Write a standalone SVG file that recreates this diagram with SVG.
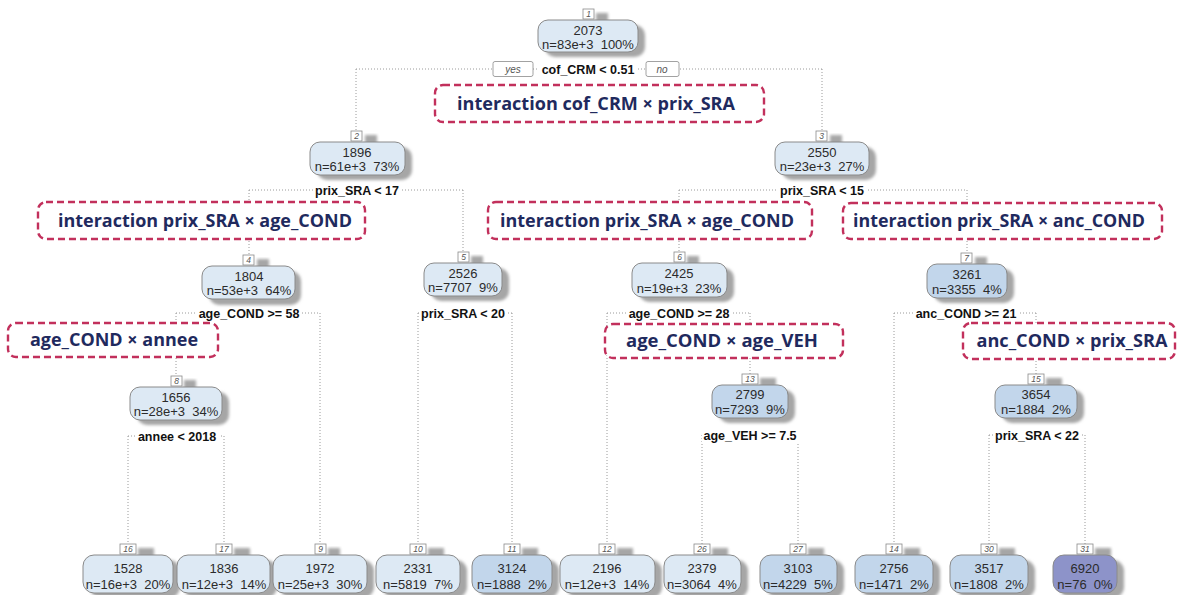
<svg xmlns="http://www.w3.org/2000/svg" width="1179" height="595" viewBox="0 0 1179 595">
  <defs>
    <filter id="soft" x="-20%" y="-20%" width="140%" height="140%">
      <feGaussianBlur stdDeviation="1.8"/>
    </filter>
    <style>
      .link { fill: none; stroke: #9a9a9a; stroke-width: 1; stroke-dasharray: 1 2; }
      .shadow { fill: #a6a6a6; filter: url(#soft); }
      .box { stroke: #8a8a8a; stroke-width: 1; }
      .lo { fill: #dde9f4; }
      .mid { fill: #c2d6eb; }
      .hi { fill: #8d93c9; }
      .tag { fill: #ffffff; stroke: #8a8a8a; stroke-width: 0.8; }
      .tagtxt { font-family: "Liberation Sans", Arial, sans-serif; font-size: 8.5px; font-style: italic; fill: #555; text-anchor: middle; }
      .val { font-family: "Liberation Sans", Arial, sans-serif; font-size: 13px; fill: #2b2b2b; text-anchor: middle; }
      .split { font-family: "Liberation Sans", Arial, sans-serif; font-size: 12.5px; font-weight: bold; fill: #111; text-anchor: middle; }
      .yn { font-family: "Liberation Sans", Arial, sans-serif; font-size: 10px; font-style: italic; fill: #555; text-anchor: middle; }
      .mask { fill: #ffffff; }
      .note { fill: #ffffff; stroke: #c2305c; stroke-width: 2.4; stroke-dasharray: 7 4; }
      .notetxt { font-family: "Open Sans", "Liberation Sans", sans-serif; font-size: 18px; font-weight: bold; fill: #1f2a5e; text-anchor: middle; }
    </style>
  </defs>

  <rect width="1179" height="595" fill="#ffffff"/>

  <!-- connectors: split lines and branches -->
  <g id="connectors">
    <path class="link" d="M356,69 H822 M356,69 V131 M822,69 V131"/>
    <path class="link" d="M249,190 H463 M249,190 V255 M463,190 V252"/>
    <path class="link" d="M679,190 H967 M679,190 V252 M967,190 V253"/>
    <path class="link" d="M176,313 H320 M176,313 V376 M320,313 V544"/>
    <path class="link" d="M418,313 H512 M418,313 V544 M512,313 V544"/>
    <path class="link" d="M607,313 H750 M607,313 V544 M750,313 V374"/>
    <path class="link" d="M894,313 H1036 M894,313 V544 M1036,313 V374"/>
    <path class="link" d="M128,436 H224 M128,436 V544 M224,436 V544"/>
    <path class="link" d="M702,435 H798 M702,435 V544 M798,435 V544"/>
    <path class="link" d="M989,435 H1085 M989,435 V544 M1085,435 V544"/>
  </g>

  <!-- split conditions -->
  <g id="splits">
    <rect class="mask" x="539" y="62" width="99" height="14"/>
    <text class="split" x="588" y="73.5">cof_CRM &lt; 0.51</text>
    <rect class="tag" x="493" y="61.5" width="40" height="15" rx="2"/>
    <text class="yn" x="513" y="73">yes</text>
    <rect class="tag" x="646" y="61.5" width="33" height="15" rx="2"/>
    <text class="yn" x="662" y="73">no</text>

    <rect class="mask" x="313" y="183" width="88" height="14"/>
    <text class="split" x="357" y="194.5">prix_SRA &lt; 17</text>
    <rect class="mask" x="778" y="183" width="88" height="14"/>
    <text class="split" x="822" y="194.5">prix_SRA &lt; 15</text>

    <rect class="mask" x="196" y="306" width="106" height="14"/>
    <text class="split" x="249" y="317.5">age_COND &gt;= 58</text>
    <rect class="mask" x="419" y="306" width="88" height="14"/>
    <text class="split" x="463" y="317.5">prix_SRA &lt; 20</text>
    <rect class="mask" x="626" y="306" width="106" height="14"/>
    <text class="split" x="679" y="317.5">age_COND &gt;= 28</text>
    <rect class="mask" x="914" y="306" width="104" height="14"/>
    <text class="split" x="966" y="317.5">anc_COND &gt;= 21</text>

    <rect class="mask" x="135" y="429" width="84" height="14"/>
    <text class="split" x="177" y="440.5">annee &lt; 2018</text>
    <rect class="mask" x="702" y="428" width="97" height="14"/>
    <text class="split" x="750" y="439.5">age_VEH &gt;= 7.5</text>
    <rect class="mask" x="994" y="428" width="86" height="14"/>
    <text class="split" x="1037" y="439.5">prix_SRA &lt; 22</text>
  </g>

  <!-- interaction annotations -->
  <g id="note-cof-prix">
    <rect class="note" x="435" y="85" width="329" height="37" rx="8"/>
    <text class="notetxt" x="596" y="110" textLength="278" lengthAdjust="spacingAndGlyphs">interaction cof_CRM × prix_SRA</text>
  </g>
  <g id="note-prix-age-left">
    <rect class="note" x="38" y="202" width="327" height="37" rx="8"/>
    <text class="notetxt" x="205" y="227" textLength="294" lengthAdjust="spacingAndGlyphs">interaction prix_SRA × age_COND</text>
  </g>
  <g id="note-prix-age-right">
    <rect class="note" x="488" y="202" width="324" height="37" rx="8"/>
    <text class="notetxt" x="647" y="227" textLength="294" lengthAdjust="spacingAndGlyphs">interaction prix_SRA × age_COND</text>
  </g>
  <g id="note-prix-anc">
    <rect class="note" x="843" y="203" width="319" height="36" rx="8"/>
    <text class="notetxt" x="999" y="227" textLength="292" lengthAdjust="spacingAndGlyphs">interaction prix_SRA × anc_COND</text>
  </g>
  <g id="note-age-annee">
    <rect class="note" x="8" y="323" width="210" height="34" rx="8"/>
    <text class="notetxt" x="114" y="346" textLength="168" lengthAdjust="spacingAndGlyphs">age_COND × annee</text>
  </g>
  <g id="note-age-veh">
    <rect class="note" x="605" y="324" width="238" height="34" rx="8"/>
    <text class="notetxt" x="722" y="347" textLength="192" lengthAdjust="spacingAndGlyphs">age_COND × age_VEH</text>
  </g>
  <g id="note-anc-prix">
    <rect class="note" x="963" y="323" width="212" height="36" rx="8"/>
    <text class="notetxt" x="1072" y="347" textLength="191" lengthAdjust="spacingAndGlyphs">anc_COND × prix_SRA</text>
  </g>

  <!-- inner nodes -->
  <g id="node-1">
    <rect class="shadow" x="596" y="13" width="12" height="10"/>
    <rect class="shadow" x="545" y="25" width="100" height="32" rx="10"/>
    <rect class="tag" x="583" y="9" width="11" height="10"/>
    <text class="tagtxt" x="588.5" y="17">1</text>
    <rect class="box lo" x="538" y="20" width="100" height="32" rx="10"/>
    <text class="val" x="588" y="35">2073</text>
    <text class="val" x="588" y="49" xml:space="preserve">n=83e+3  100%</text>
  </g>
  <g id="node-2">
    <rect class="shadow" x="365" y="135" width="12" height="10"/>
    <rect class="shadow" x="317" y="147" width="95" height="33" rx="10"/>
    <rect class="tag" x="351" y="131" width="11" height="10"/>
    <text class="tagtxt" x="356.5" y="139">2</text>
    <rect class="box lo" x="310" y="142" width="95" height="33" rx="10"/>
    <text class="val" x="357" y="157">1896</text>
    <text class="val" x="357" y="171" xml:space="preserve">n=61e+3  73%</text>
  </g>
  <g id="node-3">
    <rect class="shadow" x="830" y="135" width="12" height="10"/>
    <rect class="shadow" x="782" y="147" width="94" height="33" rx="10"/>
    <rect class="tag" x="816" y="131" width="11" height="10"/>
    <text class="tagtxt" x="821.5" y="139">3</text>
    <rect class="box lo" x="775" y="142" width="94" height="33" rx="10"/>
    <text class="val" x="822" y="157">2550</text>
    <text class="val" x="822" y="171" xml:space="preserve">n=23e+3  27%</text>
  </g>
  <g id="node-4">
    <rect class="shadow" x="257" y="259" width="12" height="10"/>
    <rect class="shadow" x="209" y="271" width="92" height="34" rx="10"/>
    <rect class="tag" x="243" y="255" width="11" height="10"/>
    <text class="tagtxt" x="248.5" y="263">4</text>
    <rect class="box lo" x="202" y="266" width="93" height="33" rx="10"/>
    <text class="val" x="249" y="281">1804</text>
    <text class="val" x="249" y="295" xml:space="preserve">n=53e+3  64%</text>
  </g>
  <g id="node-5">
    <rect class="shadow" x="471" y="256" width="12" height="10"/>
    <rect class="shadow" x="431" y="268" width="78" height="33" rx="10"/>
    <rect class="tag" x="458" y="252" width="11" height="10"/>
    <text class="tagtxt" x="463.5" y="260">5</text>
    <rect class="box lo" x="424" y="263" width="78" height="33" rx="10"/>
    <text class="val" x="463" y="278">2526</text>
    <text class="val" x="463" y="292" xml:space="preserve">n=7707  9%</text>
  </g>
  <g id="node-6">
    <rect class="shadow" x="687" y="256" width="12" height="10"/>
    <rect class="shadow" x="639" y="268" width="95" height="34" rx="10"/>
    <rect class="tag" x="674" y="252" width="11" height="10"/>
    <text class="tagtxt" x="679.5" y="260">6</text>
    <rect class="box lo" x="632" y="263" width="95" height="34" rx="10"/>
    <text class="val" x="679" y="278">2425</text>
    <text class="val" x="679" y="293" xml:space="preserve">n=19e+3  23%</text>
  </g>
  <g id="node-7">
    <rect class="shadow" x="975" y="257" width="12" height="10"/>
    <rect class="shadow" x="934" y="269" width="80" height="34" rx="10"/>
    <rect class="tag" x="961" y="253" width="11" height="10"/>
    <text class="tagtxt" x="966.5" y="261">7</text>
    <rect class="box mid" x="927" y="264" width="80" height="34" rx="10"/>
    <text class="val" x="967" y="279">3261</text>
    <text class="val" x="967" y="294" xml:space="preserve">n=3355  4%</text>
  </g>
  <g id="node-8">
    <rect class="shadow" x="184" y="380" width="12" height="10"/>
    <rect class="shadow" x="137" y="392" width="92" height="33" rx="10"/>
    <rect class="tag" x="171" y="376" width="11" height="10"/>
    <text class="tagtxt" x="176.5" y="384">8</text>
    <rect class="box lo" x="130" y="387" width="92" height="33" rx="10"/>
    <text class="val" x="176" y="402">1656</text>
    <text class="val" x="176" y="416" xml:space="preserve">n=28e+3  34%</text>
  </g>
  <g id="node-13">
    <rect class="shadow" x="760" y="378" width="16" height="10"/>
    <rect class="shadow" x="719" y="390" width="76" height="33" rx="10"/>
    <rect class="tag" x="742" y="374" width="16" height="10"/>
    <text class="tagtxt" x="750" y="382">13</text>
    <rect class="box mid" x="712" y="385" width="76" height="33" rx="10"/>
    <text class="val" x="750" y="399">2799</text>
    <text class="val" x="750" y="414" xml:space="preserve">n=7293  9%</text>
  </g>
  <g id="node-15">
    <rect class="shadow" x="1046" y="378" width="16" height="10"/>
    <rect class="shadow" x="1002" y="390" width="82" height="33" rx="10"/>
    <rect class="tag" x="1028" y="374" width="16" height="10"/>
    <text class="tagtxt" x="1036" y="382">15</text>
    <rect class="box mid" x="995" y="385" width="82" height="33" rx="10"/>
    <text class="val" x="1036" y="399">3654</text>
    <text class="val" x="1036" y="414" xml:space="preserve">n=1884  2%</text>
  </g>

  <!-- leaves -->
  <g id="leaf-16">
    <rect class="shadow" x="138" y="548" width="16" height="10"/>
    <rect class="shadow" x="90" y="560" width="90" height="38" rx="11"/>
    <rect class="tag" x="120" y="544" width="16" height="10"/>
    <text class="tagtxt" x="128" y="552">16</text>
    <rect class="box lo" x="83" y="555" width="90" height="38" rx="11"/>
    <text class="val" x="128" y="573">1528</text>
    <text class="val" x="128" y="589" xml:space="preserve">n=16e+3  20%</text>
  </g>
  <g id="leaf-17">
    <rect class="shadow" x="234" y="548" width="16" height="10"/>
    <rect class="shadow" x="184" y="560" width="93" height="38" rx="11"/>
    <rect class="tag" x="216" y="544" width="16" height="10"/>
    <text class="tagtxt" x="224" y="552">17</text>
    <rect class="box lo" x="177" y="555" width="93" height="38" rx="11"/>
    <text class="val" x="224" y="573">1836</text>
    <text class="val" x="224" y="589" xml:space="preserve">n=12e+3  14%</text>
  </g>
  <g id="leaf-9">
    <rect class="shadow" x="328" y="548" width="12" height="10"/>
    <rect class="shadow" x="280" y="560" width="94" height="38" rx="11"/>
    <rect class="tag" x="315" y="544" width="11" height="10"/>
    <text class="tagtxt" x="320.5" y="552">9</text>
    <rect class="box lo" x="273" y="555" width="94" height="38" rx="11"/>
    <text class="val" x="320" y="573">1972</text>
    <text class="val" x="320" y="589" xml:space="preserve">n=25e+3  30%</text>
  </g>
  <g id="leaf-10">
    <rect class="shadow" x="428" y="548" width="16" height="10"/>
    <rect class="shadow" x="383" y="560" width="84" height="38" rx="11"/>
    <rect class="tag" x="410" y="544" width="16" height="10"/>
    <text class="tagtxt" x="418" y="552">10</text>
    <rect class="box lo" x="376" y="555" width="84" height="38" rx="11"/>
    <text class="val" x="418" y="573">2331</text>
    <text class="val" x="418" y="589" xml:space="preserve">n=5819  7%</text>
  </g>
  <g id="leaf-11">
    <rect class="shadow" x="522" y="548" width="16" height="10"/>
    <rect class="shadow" x="479" y="560" width="80" height="38" rx="11"/>
    <rect class="tag" x="504" y="544" width="16" height="10"/>
    <text class="tagtxt" x="512" y="552">11</text>
    <rect class="box mid" x="472" y="555" width="80" height="38" rx="11"/>
    <text class="val" x="512" y="573">3124</text>
    <text class="val" x="512" y="589" xml:space="preserve">n=1888  2%</text>
  </g>
  <g id="leaf-12">
    <rect class="shadow" x="617" y="548" width="16" height="10"/>
    <rect class="shadow" x="567" y="560" width="95" height="38" rx="11"/>
    <rect class="tag" x="599" y="544" width="16" height="10"/>
    <text class="tagtxt" x="607" y="552">12</text>
    <rect class="box lo" x="560" y="555" width="95" height="38" rx="11"/>
    <text class="val" x="607" y="573">2196</text>
    <text class="val" x="607" y="589" xml:space="preserve">n=12e+3  14%</text>
  </g>
  <g id="leaf-26">
    <rect class="shadow" x="712" y="548" width="16" height="10"/>
    <rect class="shadow" x="671" y="560" width="77" height="38" rx="11"/>
    <rect class="tag" x="694" y="544" width="16" height="10"/>
    <text class="tagtxt" x="702" y="552">26</text>
    <rect class="box lo" x="664" y="555" width="77" height="38" rx="11"/>
    <text class="val" x="702" y="573">2379</text>
    <text class="val" x="702" y="589" xml:space="preserve">n=3064  4%</text>
  </g>
  <g id="leaf-27">
    <rect class="shadow" x="808" y="548" width="16" height="10"/>
    <rect class="shadow" x="767" y="560" width="77" height="38" rx="11"/>
    <rect class="tag" x="790" y="544" width="16" height="10"/>
    <text class="tagtxt" x="798" y="552">27</text>
    <rect class="box mid" x="760" y="555" width="77" height="38" rx="11"/>
    <text class="val" x="798" y="573">3103</text>
    <text class="val" x="798" y="589" xml:space="preserve">n=4229  5%</text>
  </g>
  <g id="leaf-14">
    <rect class="shadow" x="904" y="548" width="16" height="10"/>
    <rect class="shadow" x="862" y="560" width="78" height="38" rx="11"/>
    <rect class="tag" x="886" y="544" width="16" height="10"/>
    <text class="tagtxt" x="894" y="552">14</text>
    <rect class="box mid" x="855" y="555" width="78" height="38" rx="11"/>
    <text class="val" x="894" y="573">2756</text>
    <text class="val" x="894" y="589" xml:space="preserve">n=1471  2%</text>
  </g>
  <g id="leaf-30">
    <rect class="shadow" x="999" y="548" width="16" height="10"/>
    <rect class="shadow" x="957" y="560" width="78" height="38" rx="11"/>
    <rect class="tag" x="981" y="544" width="16" height="10"/>
    <text class="tagtxt" x="989" y="552">30</text>
    <rect class="box mid" x="950" y="555" width="78" height="38" rx="11"/>
    <text class="val" x="989" y="573">3517</text>
    <text class="val" x="989" y="589" xml:space="preserve">n=1808  2%</text>
  </g>
  <g id="leaf-31">
    <rect class="shadow" x="1095" y="548" width="16" height="10"/>
    <rect class="shadow" x="1060" y="560" width="64" height="38" rx="11"/>
    <rect class="tag" x="1077" y="544" width="16" height="10"/>
    <text class="tagtxt" x="1085" y="552">31</text>
    <rect class="box hi" x="1053" y="555" width="64" height="38" rx="11"/>
    <text class="val" x="1085" y="573">6920</text>
    <text class="val" x="1085" y="589" xml:space="preserve">n=76  0%</text>
  </g>
</svg>
